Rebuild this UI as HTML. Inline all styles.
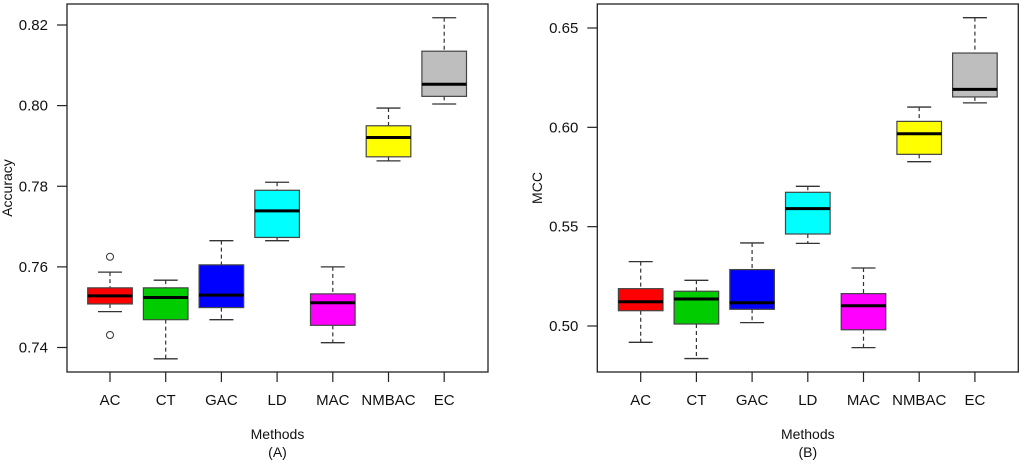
<!DOCTYPE html>
<html><head><meta charset="utf-8"><style>
html,body{margin:0;padding:0;background:#fff;}
svg{display:block;font-family:"Liberation Sans",Arial,sans-serif;}
</style></head><body>
<svg id="chart" width="1024" height="460" viewBox="0 0 1024 460"></svg>
<script>
const categories = ["AC","CT","GAC","LD","MAC","NMBAC","EC"];
const colors = ["#ff0000","#00cc00","#0000ff","#00ffff","#ff00ff","#ffff00","#bebebe"];
// Panel A: Accuracy [lowWhisker, Q1, median, Q3, highWhisker]
const accLow = [0.7489,0.7372,0.7469,0.7665,0.7412,0.7863,0.8004];
const accQ1 = [0.7508,0.7469,0.7499,0.7673,0.7455,0.7873,0.8023];
const accMed = [0.7528,0.7524,0.7530,0.7739,0.7511,0.7921,0.8053];
const accQ3 = [0.7548,0.7548,0.7605,0.7790,0.7533,0.7950,0.8135];
const accHigh = [0.7587,0.7567,0.7665,0.7810,0.7600,0.7994,0.8218];
const accOutliers = [[0.7625,0.7431],[],[],[],[],[],[]];
const accTicks = [0.74,0.76,0.78,0.80,0.82];
const accTickLabels = ["0.74","0.76","0.78","0.80","0.82"];
// Panel B: MCC
const mccLow = [0.4918,0.4836,0.5017,0.5416,0.4891,0.5827,0.6123];
const mccQ1 = [0.5077,0.5010,0.5084,0.5463,0.4981,0.5864,0.6153];
const mccMed = [0.5122,0.5136,0.5117,0.5591,0.5102,0.5968,0.6191];
const mccQ3 = [0.5188,0.5175,0.5284,0.5673,0.5163,0.6030,0.6374];
const mccHigh = [0.5324,0.5230,0.5418,0.5703,0.5292,0.6102,0.6552];
const mccOutliers = [[],[],[],[],[],[],[]];
const mccTicks = [0.50,0.55,0.60,0.65];
const mccTickLabels = ["0.50","0.55","0.60","0.65"];

const svg = document.getElementById('chart');
const NS = "http://www.w3.org/2000/svg";
function mk(tag, attrs, parent){
  const e = document.createElementNS(NS, tag);
  for (const k in attrs) e.setAttribute(k, attrs[k]);
  (parent||svg).appendChild(e);
  return e;
}

function panel(opt){
  const g = mk('g', {});
  
  
  const yScale = v => opt.y0px + (opt.v0 - v) * (opt.y1px - opt.y0px) / (opt.v0 - opt.v1);
  const xScale = i => opt.cx0 + i * opt.step;
  const frame = mk('rect', {x:opt.left, y:4, width:opt.right-opt.left, height:368, fill:'none', stroke:'#222', 'stroke-width':1.3}, g);
  
  
  opt.ticks.forEach((t, i) => {
    const y = yScale(t);
    const tk = mk('line', {x1:opt.left-10, x2:opt.left, y1:y, y2:y, stroke:'#222', 'stroke-width':1.2}, g);
    
    
    const lb = mk('text', {x:opt.left-19, y:y+5, 'text-anchor':'end', 'font-size':15, fill:'#111'}, g);
    lb.textContent = opt.tickLabels[i];
    
    
  });
  categories.forEach((c, i) => {
    const x = xScale(i);
    const tk = mk('line', {x1:x, x2:x, y1:372, y2:382, stroke:'#222', 'stroke-width':1.2}, g);
    
    
    const lb = mk('text', {x:x, y:405, 'text-anchor':'middle', 'font-size':15, fill:'#111'}, g);
    lb.textContent = c;
    
    
    const bw = 22.3, cw = 12;
    const w1 = mk('line', {x1:x, x2:x, y1:yScale(opt.high[i]), y2:yScale(opt.q3[i]), stroke:'#333', 'stroke-width':1.2, 'stroke-dasharray':'4,3'}, g);
    
    
    const w2 = mk('line', {x1:x, x2:x, y1:yScale(opt.q1[i]), y2:yScale(opt.low[i]), stroke:'#333', 'stroke-width':1.2, 'stroke-dasharray':'4,3'}, g);
    
    
    [opt.high[i], opt.low[i]].forEach(v => {
      const cap = mk('line', {x1:x-cw, x2:x+cw, y1:yScale(v), y2:yScale(v), stroke:'#333', 'stroke-width':1.3}, g);
      
      
    });
    const bx = mk('rect', {x:x-bw, y:yScale(opt.q3[i]), width:2*bw, height:yScale(opt.q1[i])-yScale(opt.q3[i]), fill:colors[i], stroke:'#444', 'stroke-width':1.2}, g);
    
    
    const md = mk('line', {x1:x-bw, x2:x+bw, y1:yScale(opt.med[i]), y2:yScale(opt.med[i]), stroke:'#000', 'stroke-width':3}, g);
    
    
    opt.out[i].forEach(v => {
      const o = mk('circle', {cx:x, cy:yScale(v), r:3.5, fill:'none', stroke:'#333', 'stroke-width':1}, g);
      
      
    });
  });
  const cx = (opt.left + opt.right) / 2;
  const xt = mk('text', {x:cx, y:439, 'text-anchor':'middle', 'font-size':14, fill:'#111'}, g);
  xt.textContent = 'Methods';
  
  
  const pl = mk('text', {x:cx, y:457, 'text-anchor':'middle', 'font-size':14, fill:'#111'}, g);
  pl.textContent = opt.panelLabel;
  
  
  const yt = mk('text', {x:0, y:0, 'text-anchor':'middle', 'font-size':14, fill:'#111', transform:'translate(' + opt.ytX + ',188) rotate(-90)'}, g);
  yt.textContent = opt.yTitle;
  
  
}

panel({name:'accuracy-panel', left:67, right:488, cx0:110, step:55.7, v0:0.82, y0px:25, v1:0.74, y1px:347.5,
  ticks:accTicks, tickLabels:accTickLabels, low:accLow, q1:accQ1, med:accMed, q3:accQ3, high:accHigh, out:accOutliers,
  panelLabel:'(A)', yTitle:'Accuracy', ytX:12});
panel({name:'mcc-panel', left:597.3, right:1018.3, cx0:640.7, step:55.7, v0:0.65, y0px:28, v1:0.50, y1px:326,
  ticks:mccTicks, tickLabels:mccTickLabels, low:mccLow, q1:mccQ1, med:mccMed, q3:mccQ3, high:mccHigh, out:mccOutliers,
  panelLabel:'(B)', yTitle:'MCC', ytX:542});
</script>
</body></html>
